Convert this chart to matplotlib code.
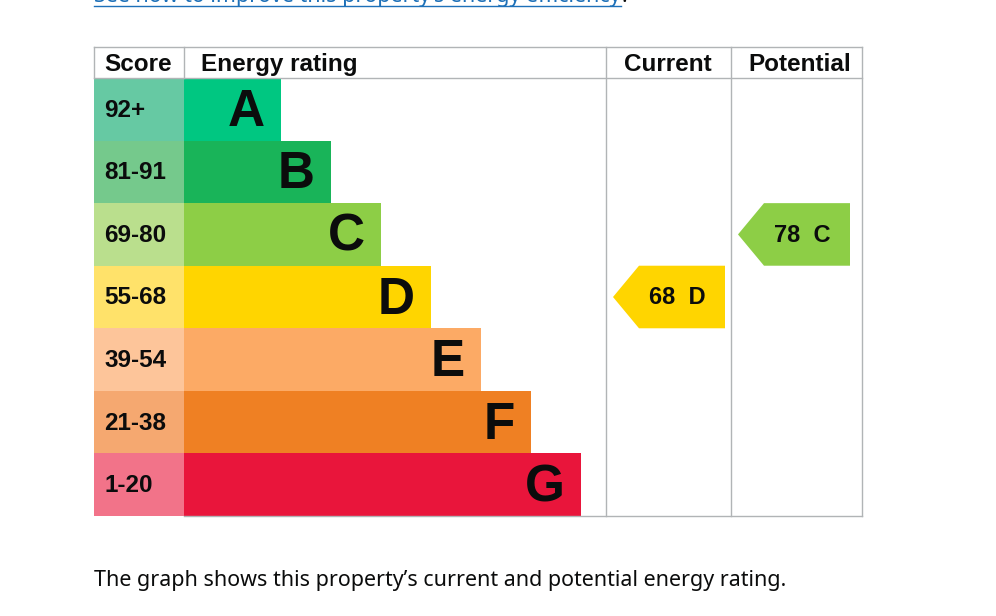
import matplotlib.pyplot as plt
from matplotlib.patches import Polygon

# data
bands = ["A", "B", "C", "D", "E", "F", "G"]
score_ranges = ["92+", "81-91", "69-80", "55-68", "39-54", "21-38", "1-20"]
band_min = [92, 81, 69, 55, 39, 21, 1]
bar_colors = ["#00c781", "#19b459", "#8dce46", "#ffd500", "#fcaa65", "#ef8023", "#e9153b"]
score_colors = ["#66c9a3", "#75c98c", "#badf8d", "#ffe26a", "#fdc59a", "#f5a870", "#f27389"]
current_score = 68
potential_score = 78
headers = ["Score", "Energy rating", "Current", "Potential"]
link_text = "See how to improve this property\u2019s energy efficiency"
note_text = "The graph shows this property\u2019s current and potential energy rating."

# layout (pixels)
W, H = 996, 616
col_x = [94, 184, 606, 731, 862]
head_pad = [10, 17, 18, 17]
top, head_bot, bottom = 47, 78, 516
row_h = (bottom - head_bot) / len(bands)
bar_base, bar_step = 97, 50
arrow_w, arrow_tip = 112, 26
grid = "#b1b4b6"
bold = dict(family="Liberation Sans", weight="bold", color="#0b0c0c")
body = dict(family="Noto Sans", fontsize=15.45)

fig = plt.figure(figsize=(W / 100, H / 100), dpi=100)
ax = fig.add_axes([0, 0, 1, 1])
ax.set_xlim(0, W)
ax.set_ylim(H, 0)
ax.axis("off")


def band_of(score):
    for i, m in enumerate(band_min):
        if score >= m:
            return i
    return len(band_min) - 1


y_centers = [head_bot + row_h * (i + 0.5) for i in range(len(bands))]
widths = [bar_base + bar_step * i for i in range(len(bands))]

ax.barh(y_centers, [col_x[1] - col_x[0]] * len(bands), height=row_h,
        left=col_x[0], color=score_colors, linewidth=0)
ax.barh(y_centers, widths, height=row_h, left=col_x[1],
        color=bar_colors, linewidth=0)

for i, (lab, rng) in enumerate(zip(bands, score_ranges)):
    ax.text(col_x[0] + 10, y_centers[i] + 1, rng, fontsize=17.5, ha="left",
            va="center", **bold)
    ax.text(col_x[1] + widths[i] - 16, y_centers[i] + 3, lab, fontsize=37,
            ha="right", va="center", **bold)

# headers
for j, h in enumerate(headers):
    ax.text(col_x[j] + head_pad[j], (top + head_bot) / 2 + 2, h, fontsize=17.5,
            ha="left", va="center", **bold)

# grid lines
lw = 1.0
ax.plot([col_x[0], col_x[-1]], [top, top], color=grid, lw=lw)
ax.plot([col_x[0], col_x[-1]], [head_bot, head_bot], color=grid, lw=lw)
ax.plot([col_x[1], col_x[-1]], [bottom, bottom], color=grid, lw=lw)
ax.plot([col_x[0], col_x[0]], [top, head_bot], color=grid, lw=lw)
ax.plot([col_x[1], col_x[1]], [top, head_bot], color=grid, lw=lw)
for x in col_x[2:]:
    ax.plot([x, x], [top, bottom], color=grid, lw=lw)


def arrow(col, score, pad):
    i = band_of(score)
    x0 = col_x[col] + pad
    y0 = head_bot + row_h * i
    y1 = y0 + row_h
    pts = [(x0, (y0 + y1) / 2), (x0 + arrow_tip, y0), (x0 + arrow_w, y0),
           (x0 + arrow_w, y1), (x0 + arrow_tip, y1)]
    ax.add_patch(Polygon(pts, closed=True, color=bar_colors[i], lw=0))
    ax.text(x0 + arrow_w / 2 + 8, (y0 + y1) / 2 + 1, f"{score}  {bands[i]}",
            fontsize=17, ha="center", va="center", **bold)


arrow(2, current_score, 7)
arrow(3, potential_score, 7)

# page text
link = ax.text(col_x[0], 2, link_text, color="#1d70b8", ha="left",
               va="baseline", **body)
ax.text(col_x[0], 586, note_text, color="#0b0c0c", ha="left",
        va="baseline", **body)

fig.canvas.draw()
bb = link.get_window_extent()
ax.plot([bb.x0, bb.x1], [6, 6], color="#1d70b8", lw=1)
ax.text(bb.x1 + 1, 2, ".", color="#0b0c0c", ha="left", va="baseline", **body)

fig.savefig("out.png", dpi=100)
